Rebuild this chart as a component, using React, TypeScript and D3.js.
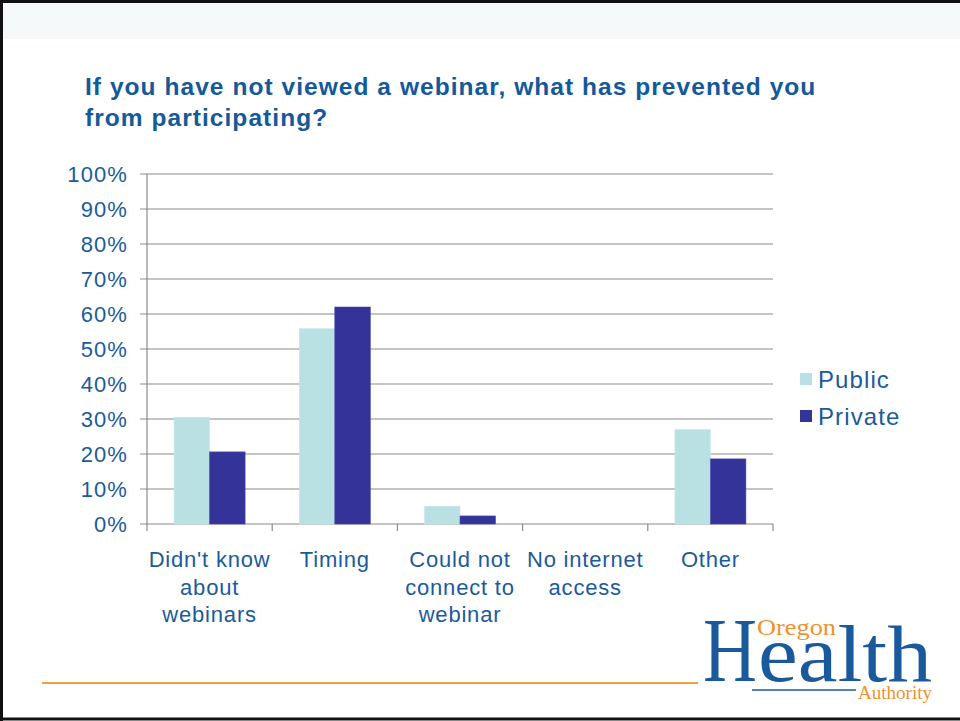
import React from "react";
import * as d3 from "d3";

const categories = [
  ["Didn't know", "about", "webinars"],
  ["Timing"],
  ["Could not", "connect to", "webinar"],
  ["No internet", "access"],
  ["Other"],
];
const seriesNames = ["Public", "Private"];
const publicValues = [30.5, 55.8, 5.1, 0, 27.0];
const privateValues = [20.6, 62.0, 2.3, 0, 18.6];
const yTicks = [0, 10, 20, 30, 40, 50, 60, 70, 80, 90, 100];
const titleLines = [
  "If you have not viewed a webinar, what has prevented you",
  "from participating?",
];

const W = 960;
const H = 721;
const plot = { left: 147, right: 773, top: 174, bottom: 524 };
const colors = ["#b9e0e3", "#333399"];
const blue = "#1b5b9b";
const font = "Liberation Sans, Arial, sans-serif";

export default function App() {
  const x0 = d3
    .scaleBand<number>()
    .domain(categories.map((_, i) => i))
    .range([plot.left, plot.right]);
  const y = d3.scaleLinear().domain([0, 100]).range([plot.bottom, plot.top]);
  const barW = 35.5;
  const series = [publicValues, privateValues];

  return (
    <div style={{ position: "absolute", left: 0, top: 0 }}>
      <svg width={W} height={H} style={{ display: "block" }}>
        <rect x={0} y={0} width={W} height={H} fill="#ffffff" />
        <rect x={2} y={3} width={W - 2} height={36} fill="#f5f9f9" />
        {/* frame */}
        <line x1={0} y1={1.5} x2={W} y2={1.5} stroke="#111" strokeWidth={3} />
        <line x1={1.5} y1={0} x2={1.5} y2={H} stroke="#111" strokeWidth={3} />
        <line x1={0} y1={H - 2} x2={W} y2={H - 2} stroke="#111" strokeWidth={3} />

        {/* title */}
        {titleLines.map((t, i) => (
          <text
            key={i}
            x={85}
            y={95 + i * 31}
            fill="#14599a"
            fontFamily={font}
            fontWeight="bold"
            fontSize={24.5}
            letterSpacing={1.05}
          >
            {t}
          </text>
        ))}

        {/* gridlines */}
        {yTicks.map((t) => (
          <g key={t}>
            <line
              x1={plot.left - 7}
              x2={plot.right}
              y1={y(t)}
              y2={y(t)}
              stroke="#8a8a8a"
              strokeWidth={1.2}
            />
            <text
              x={128}
              y={y(t) + 8}
              textAnchor="end"
              fill={blue}
              fontFamily={font}
              fontSize={22}
              letterSpacing={1.1}
            >
              {t}%
            </text>
          </g>
        ))}
        {/* y axis */}
        <line
          x1={plot.left}
          x2={plot.left}
          y1={plot.top}
          y2={plot.bottom + 7}
          stroke="#8a8a8a"
          strokeWidth={1.2}
        />
        {/* x tick marks */}
        {categories.map((_, i) => {
          const xx = (x0(i) as number) + x0.bandwidth();
          return (
            <line
              key={i}
              x1={xx}
              x2={xx}
              y1={plot.bottom}
              y2={plot.bottom + 7}
              stroke="#8a8a8a"
              strokeWidth={1.2}
            />
          );
        })}

        {/* bars */}
        {series.map((vals, s) =>
          vals.map((v, i) => {
            const cx = (x0(i) as number) + x0.bandwidth() / 2;
            const bx = cx - barW + s * barW;
            return v > 0 ? (
              <rect
                key={`${s}-${i}`}
                x={bx}
                y={y(v)}
                width={barW}
                height={plot.bottom - y(v)}
                fill={colors[s]}
                stroke={s === 0 ? "#c8e8ea" : "#4a4aa8"}
                strokeWidth={0.6}
              />
            ) : null;
          })
        )}

        {/* category labels */}
        {categories.map((lines, i) => {
          const cx = (x0(i) as number) + x0.bandwidth() / 2;
          return (
            <text
              key={i}
              textAnchor="middle"
              fill={blue}
              fontFamily={font}
              fontSize={22}
              letterSpacing={0.8}
            >
              {lines.map((l, j) => (
                <tspan key={j} x={cx} y={567 + j * 27.5}>
                  {l}
                </tspan>
              ))}
            </text>
          );
        })}

        {/* legend */}
        {seriesNames.map((n, i) => (
          <g key={n}>
            <rect x={800} y={373 + i * 37} width={12} height={12} fill={colors[i]} />
            <text
              x={818}
              y={388 + i * 37}
              fill={blue}
              fontFamily={font}
              fontSize={24}
              letterSpacing={1.1}
            >
              {n}
            </text>
          </g>
        ))}

        {/* footer line */}
        <line x1={42} x2={698} y1={683} y2={683} stroke="#f0a045" strokeWidth={2} />

        {/* logo */}
        <g fontFamily="Liberation Serif, Times New Roman, serif">
          <text x={703} y={681} fill="#1a5a9c" fontSize={92} textLength={54} lengthAdjust="spacingAndGlyphs">
            H
          </text>
          <text x={758} y={681} fill="#1a5a9c" fontSize={80} textLength={174} lengthAdjust="spacingAndGlyphs">
            ealth
          </text>
          <line x1={752} x2={856} y1={690} y2={690} stroke="#1a5a9c" strokeWidth={1.5} />
          <text x={757} y={635} fill="#f0922e" fontSize={23} textLength={79} lengthAdjust="spacingAndGlyphs">
            Oregon
          </text>
          <text x={858} y={699} fill="#f0922e" fontSize={19} textLength={74} lengthAdjust="spacingAndGlyphs">
            Authority
          </text>
        </g>
      </svg>
    </div>
  );
}
